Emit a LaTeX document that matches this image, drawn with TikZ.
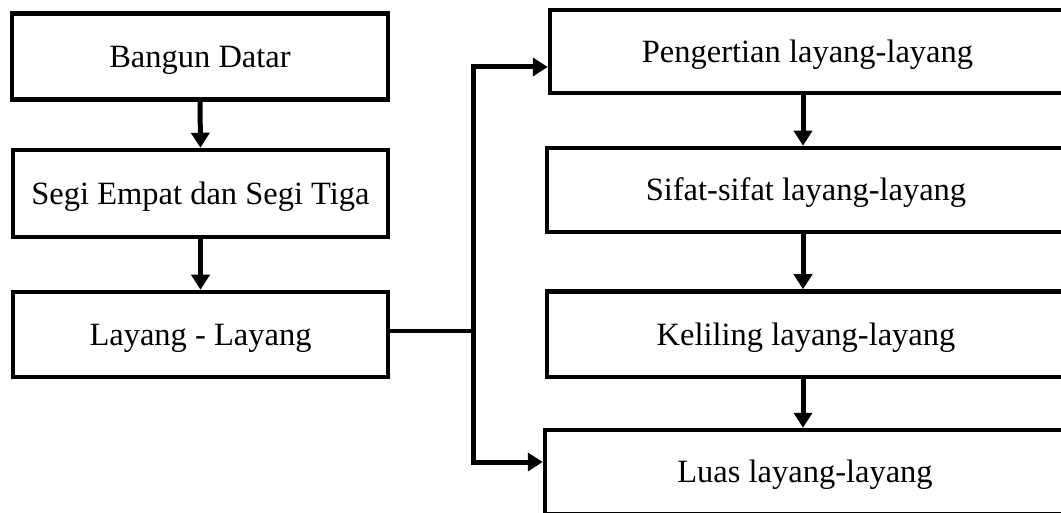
\documentclass[tikz,border=0pt]{standalone}
\usepackage{fontspec}
\setmainfont{Liberation Serif}
\usetikzlibrary{arrows.meta}
\begin{document}
\begin{tikzpicture}[x=1pt,y=-1pt,
  boxnode/.style={draw=black, line width=4.5pt, fill=white, inner sep=0pt,
    font=\fontsize{32.5}{38}\selectfont, text height=21.5pt, text depth=0pt},
  arr/.style={line width=5pt, -{Triangle[width=18pt,length=15pt]}},
  stub/.style={line width=3.6pt},
  trunk/.style={line width=5pt}]
\clip (0,0) rectangle (1061,513);
\fill[white] (0,0) rectangle (1061,513);
% left column
\node[boxnode, minimum width=376pt, minimum height=86pt] (bd) at (200,56.5) {Bangun Datar};
\node[boxnode, minimum width=375pt, minimum height=87pt] (seg) at (200.5,193.5) {Segi Empat dan Segi Tiga};
\node[boxnode, minimum width=375pt, minimum height=85pt] (lay) at (200.5,334.5) {Layang - Layang};
% right column
\node[boxnode, minimum width=515pt, minimum height=83pt] (peng) at (807.5,51.5) {Pengertian layang-layang};
\node[boxnode, minimum width=518pt, minimum height=84pt] (sif) at (806,190) {Sifat-sifat layang-layang};
\node[boxnode, minimum width=518pt, minimum height=85.5pt] (kel) at (806,334.25) {Keliling layang-layang};
\node[boxnode, minimum width=520pt, minimum height=84pt] (luas) at (805,472) {Luas layang-layang};
% helper coordinates
\coordinate (ax) at (803,0);
\coordinate (j) at (473,331);
\coordinate (jt) at (473,67);
\coordinate (jb) at (473,462);
% left arrows
\draw[arr] (bd.south) -- (seg.north);
\draw[arr] (seg.south) -- (lay.north);
% right arrows
\draw[arr] (peng.south -| ax) -- (sif.north -| ax);
\draw[arr] (sif.south -| ax) -- (kel.north -| ax);
\draw[arr] (kel.south -| ax) -- (luas.north -| ax);
% branching connector
\draw[stub] (lay.east |- j) -- (j);
\draw[trunk, line cap=rect] (jt) -- (jb);
\draw[arr] (jt) -- (jt -| peng.west);
\draw[arr] (jb) -- (jb -| luas.west);
\end{tikzpicture}
\end{document}
